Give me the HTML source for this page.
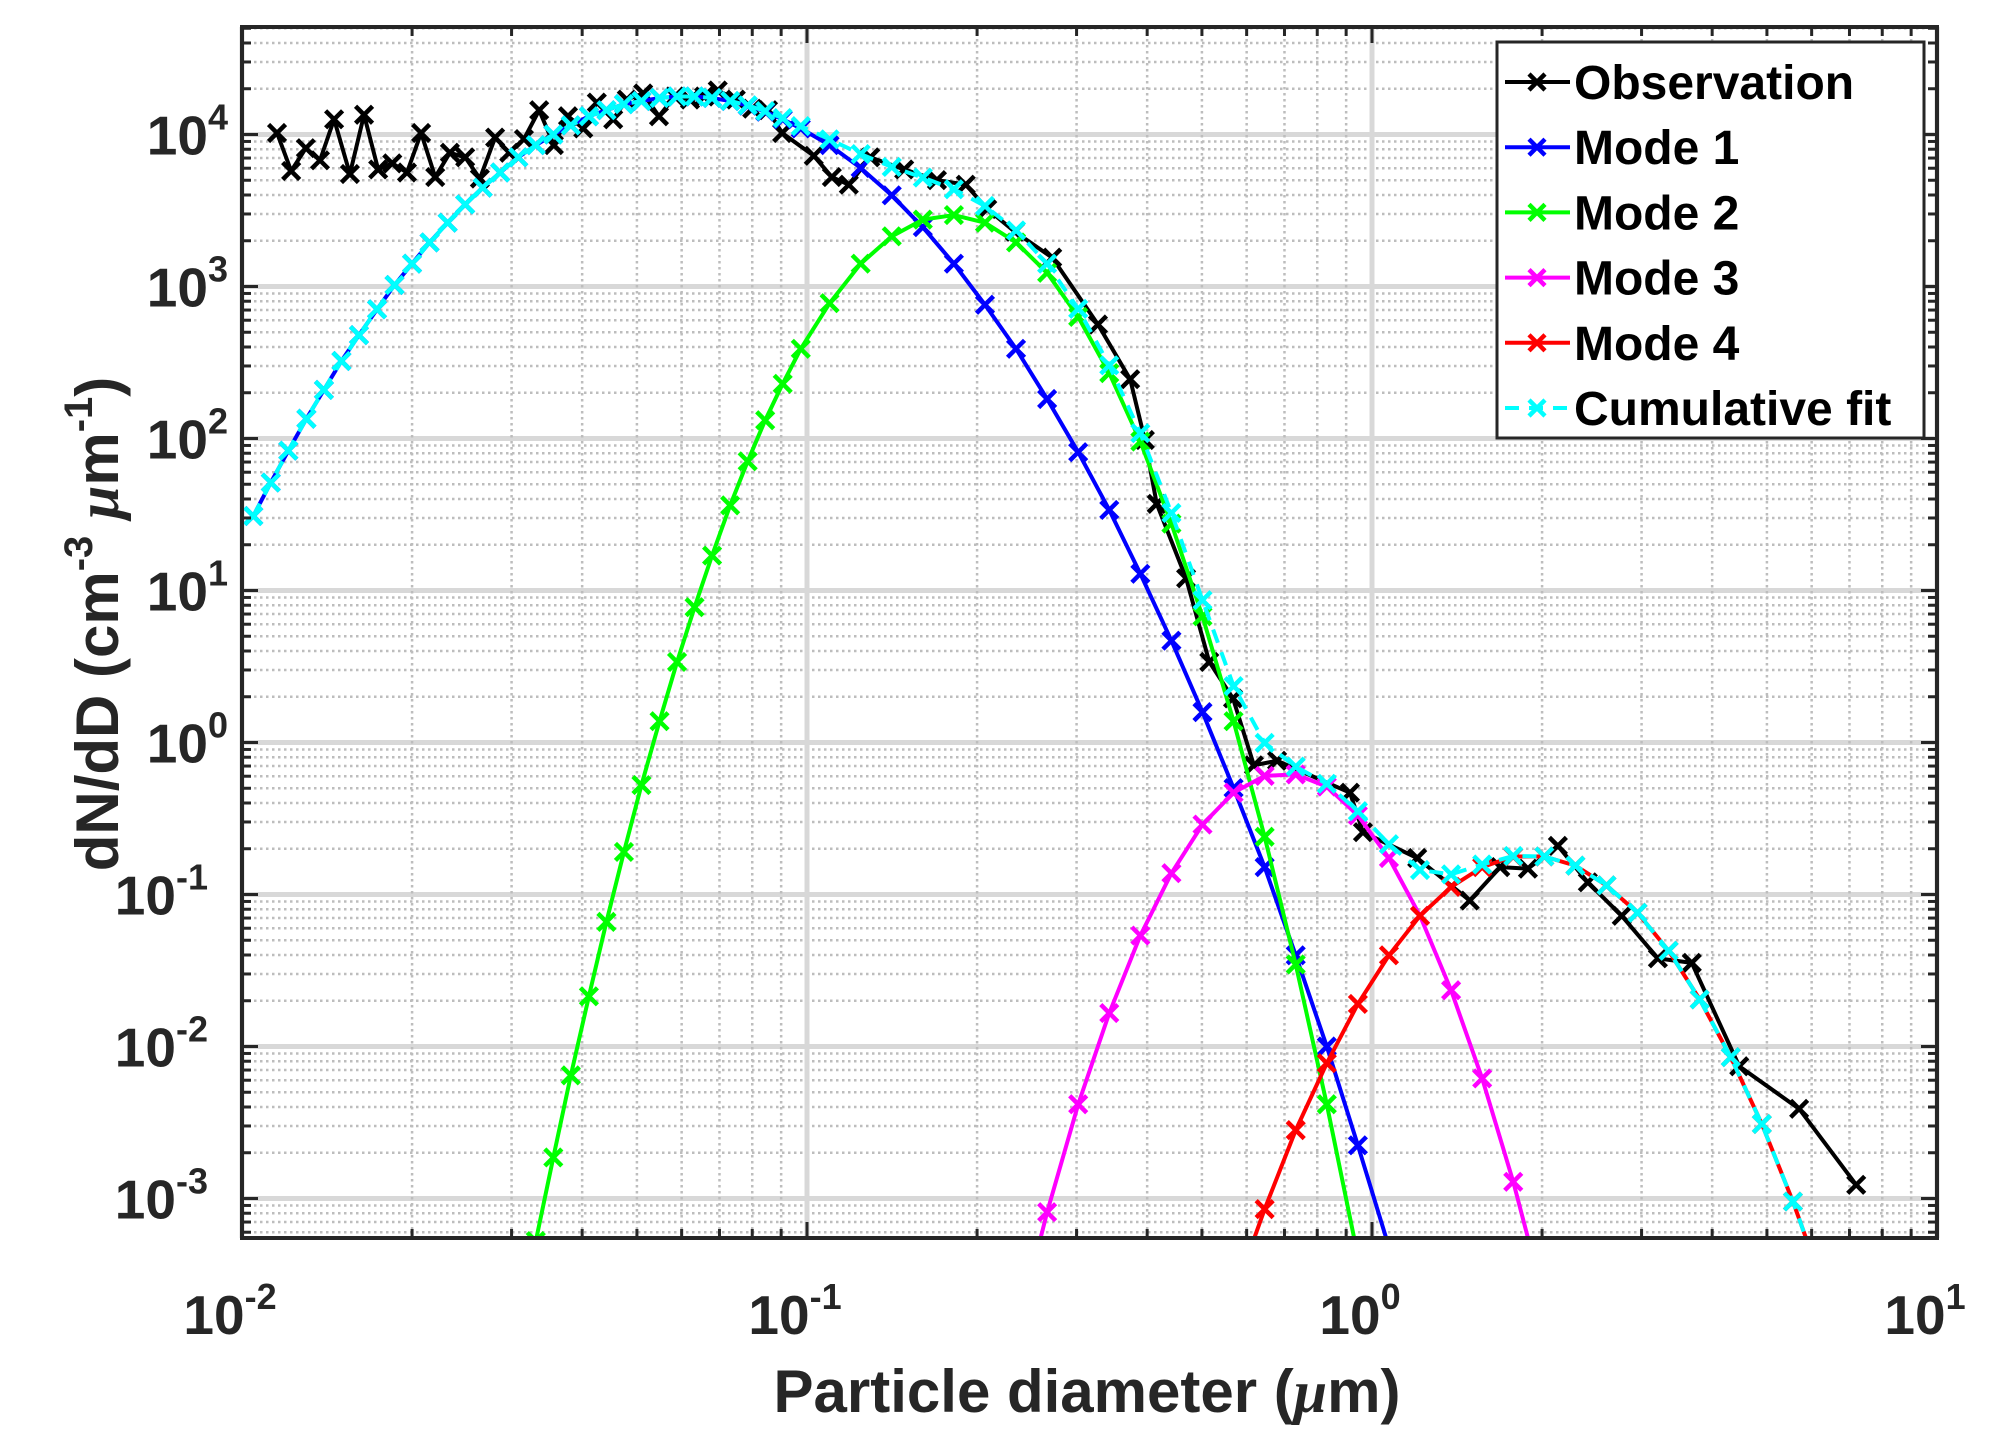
<!DOCTYPE html>
<html><head><meta charset="utf-8"><style>
html,body{margin:0;padding:0;background:#fff;}
svg{display:block;font-family:"Liberation Sans",Arial,sans-serif;}
</style></head><body>
<svg id="chart" width="2008" height="1439" viewBox="0 0 2008 1439" xmlns="http://www.w3.org/2000/svg">
<rect width="2008" height="1439" fill="#fff"/>
<defs><clipPath id="pc"><rect x="242" y="27" width="1695" height="1211"/></clipPath></defs>
<g id="grid"></g>
<g id="series" clip-path="url(#pc)"></g>
<rect x="242" y="27" width="1695" height="1211" fill="none" stroke="#262626" stroke-width="4"/>
<g id="ticks"></g>
<g id="labels" font-weight="bold" fill="#262626"></g>
<text x="1087" y="1412" text-anchor="middle" font-size="60" font-weight="bold" fill="#262626">Particle diameter (<tspan font-style="italic" font-family="Liberation Serif">μ</tspan>m)</text>
<text transform="translate(118,624) rotate(-90)" text-anchor="middle" font-size="60" font-weight="bold" fill="#262626">dN/dD (cm<tspan font-size="40" dy="-26">-3</tspan><tspan dy="26">  </tspan><tspan font-style="italic" font-family="Liberation Serif">μ</tspan>m<tspan font-size="40" dy="-26">-1</tspan><tspan dy="26">)</tspan></text>
<g id="legend"></g>
</svg>
<script>
// ---- data (log10 of diameter in µm, log10 of dN/dD) ----
const obsLogD = [-1.938,-1.913,-1.887,-1.862,-1.837,-1.809,-1.784,-1.759,-1.734,-1.708,-1.683,-1.658,-1.632,-1.605,-1.579,-1.552,-1.527,-1.501,-1.474,-1.448,-1.423,-1.396,-1.372,-1.343,-1.319,-1.290,-1.262,-1.234,-1.207,-1.182,-1.158,-1.126,-1.097,-1.069,-1.044,-0.988,-0.956,-0.926,-0.888,-0.828,-0.770,-0.719,-0.681,-0.632,-0.566,-0.485,-0.428,-0.402,-0.381,-0.329,-0.288,-0.246,-0.209,-0.168,-0.039,-0.016,0.080,0.173,0.227,0.276,0.329,0.382,0.442,0.506,0.566,0.650,0.756,0.857];
const obsLogN = [4.01,3.76,3.91,3.83,4.10,3.74,4.13,3.77,3.81,3.75,4.01,3.72,3.88,3.85,3.71,3.98,3.88,3.97,4.16,3.93,4.12,4.04,4.21,4.10,4.23,4.27,4.12,4.25,4.23,4.25,4.29,4.23,4.17,4.16,4.01,3.86,3.72,3.67,3.85,3.77,3.70,3.67,3.51,3.36,3.19,2.75,2.39,1.99,1.57,1.08,0.53,0.29,-0.15,-0.12,-0.33,-0.59,-0.76,-1.04,-0.82,-0.83,-0.68,-0.92,-1.14,-1.42,-1.45,-2.13,-2.41,-2.91];
const fitLogD = [-1.98,-1.949,-1.918,-1.886,-1.855,-1.824,-1.793,-1.761,-1.730,-1.699,-1.668,-1.636,-1.605,-1.574,-1.543,-1.511,-1.480,-1.449,-1.418,-1.386,-1.355,-1.324,-1.293,-1.261,-1.230,-1.199,-1.168,-1.136,-1.105,-1.074,-1.043,-1.011,-0.96,-0.905,-0.85,-0.795,-0.74,-0.685,-0.63,-0.575,-0.52,-0.465,-0.41,-0.355,-0.30,-0.245,-0.19,-0.135,-0.08,-0.025,0.03,0.085,0.14,0.195,0.25,0.305,0.36,0.415,0.47,0.525,0.58,0.635,0.69,0.745,0.80];
const mode1LogN = [1.49,1.71,1.92,2.13,2.32,2.51,2.68,2.85,3.01,3.15,3.29,3.42,3.54,3.65,3.75,3.85,3.93,4.00,4.06,4.12,4.16,4.20,4.22,4.24,4.25,4.25,4.24,4.22,4.19,4.15,4.10,4.04,3.93,3.78,3.60,3.39,3.15,2.88,2.59,2.26,1.91,1.53,1.11,0.67,0.20,-0.30,-0.82,-1.40,-2.00,-2.65,-3.32,null,null,null,null,null,null,null,null,null,null,null,null,null,null];
const mode2LogN = [null,null,null,null,null,null,null,null,null,null,null,null,null,null,null,null,-3.28,-2.73,-2.19,-1.67,-1.18,-0.72,-0.28,0.14,0.53,0.89,1.23,1.56,1.85,2.12,2.36,2.59,2.89,3.15,3.33,3.44,3.47,3.42,3.29,3.09,2.80,2.43,1.98,1.44,0.83,0.14,-0.62,-1.46,-2.38,-3.38,-4.44,null,null,null,null,null,null,null,null,null,null,null,null,null,null];
const mode3LogN = [null,null,null,null,null,null,null,null,null,null,null,null,null,null,null,null,null,null,null,null,null,null,null,null,null,null,null,null,null,null,null,null,null,null,null,null,null,null,-3.90,-3.09,-2.38,-1.78,-1.27,-0.86,-0.54,-0.33,-0.22,-0.21,-0.29,-0.48,-0.76,-1.14,-1.63,-2.21,-2.89,-3.67,null,null,null,null,null,null,null,null,null];
const mode4LogN = [null,null,null,null,null,null,null,null,null,null,null,null,null,null,null,null,null,null,null,null,null,null,null,null,null,null,null,null,null,null,null,null,null,null,null,null,null,null,null,null,null,null,null,null,null,-3.64,-3.07,-2.55,-2.11,-1.72,-1.40,-1.14,-0.95,-0.82,-0.75,-0.75,-0.81,-0.94,-1.12,-1.37,-1.69,-2.07,-2.51,-3.02,-3.59];
const xTickExps = [-2,-1,0,1];
const yTickExps = [4,3,2,1,0,-1,-2,-3];
const legendLabels = ["Observation","Mode 1","Mode 2","Mode 3","Mode 4","Cumulative fit"];
const legendColors = ["#000000","#0000ff","#00ff00","#ff00ff","#ff0000","#00ffff"];

// ---- axes ----
const X0=242, X1=1937, Y0=1238, Y1=27;
const xMin=-2, xMax=1, yMin=4-(1238-134.5)/152, yMax=4+(134.5-27)/152;
const xs = u => X0 + (u-xMin)/(xMax-xMin)*(X1-X0);
const ys = v => Y0 - (v-yMin)/(yMax-yMin)*(Y0-Y1);
const NS="http://www.w3.org/2000/svg";
function mk(tag, attrs, parent){const e=document.createElementNS(NS,tag);for(const k in attrs)e.setAttribute(k,attrs[k]);parent.appendChild(e);return e;}

const grid=document.getElementById('grid'), ticks=document.getElementById('ticks'), labels=document.getElementById('labels');
for(let d=Math.floor(yMin); d<=Math.ceil(yMax); d++){
  for(let m=1;m<10;m++){
    const v=d+Math.log10(m); if(v<yMin||v>yMax) continue;
    const y=ys(v);
    const g=mk('line',{x1:X0,x2:X1,y1:y,y2:y,stroke:m===1?'#d8d8d8':'#bdbdbd','stroke-width':m===1?5:2.5,'stroke-dasharray':m===1?'none':'2.5 3.5'},grid);
    
    
    const len=m===1?16:9;
    const t1=mk('line',{x1:X0,x2:X0+len,y1:y,y2:y,stroke:'#262626','stroke-width':3},ticks);
    
    
    const t2=mk('line',{x1:X1-len,x2:X1,y1:y,y2:y,stroke:'#262626','stroke-width':3},ticks);
    
    
  }
}
for(let d=xMin; d<=xMax; d++){
  for(let m=1;m<10;m++){
    const u=d+Math.log10(m); if(u<xMin||u>xMax) continue;
    const x=xs(u);
    const g=mk('line',{x1:x,x2:x,y1:Y1,y2:Y0,stroke:m===1?'#d8d8d8':'#bdbdbd','stroke-width':m===1?5:2.5,'stroke-dasharray':m===1?'none':'2.5 3.5'},grid);
    
    
    const len=m===1?16:9;
    const t1=mk('line',{x1:x,x2:x,y1:Y0,y2:Y0-len,stroke:'#262626','stroke-width':3},ticks);
    
    
    const t2=mk('line',{x1:x,x2:x,y1:Y1,y2:Y1+len,stroke:'#262626','stroke-width':3},ticks);
    
    
  }
}
xTickExps.forEach(e=>{
  const t=mk('text',{x:xs(e)-12,y:1334,'text-anchor':'middle','font-size':55},labels);
  
  
  t.innerHTML='10<tspan font-size="36" dy="-25">'+e+'</tspan>';
});
yTickExps.forEach(e=>{
  const t=mk('text',{x:e<0?208:228,y:ys(e)+20,'text-anchor':'end','font-size':55},labels);
  
  
  t.innerHTML='10<tspan font-size="36" dy="-25">'+e+'</tspan>';
});

const series=document.getElementById('series');
function drawSeries(name, lx, ly, color, dashed){
  const g=mk('g',{},series);
  
  
  let segs=[], cur=[];
  lx.forEach((u,i)=>{const v=ly[i]; if(v===null||v===undefined){if(cur.length)segs.push(cur);cur=[];} else cur.push([xs(u),ys(v)]);});
  if(cur.length)segs.push(cur);
  segs.forEach(s=>{
    const p=mk('polyline',{points:s.map(q=>q.join(',')).join(' '),fill:'none',stroke:color,'stroke-width':4,'stroke-linejoin':'round','stroke-dasharray':dashed?'14 10':'none'},g);
    
    
    s.forEach(q=>{
      const r=8.5;
      const m=mk('path',{d:`M${q[0]-r},${q[1]-r}L${q[0]+r},${q[1]+r}M${q[0]-r},${q[1]+r}L${q[0]+r},${q[1]-r}`,stroke:color,'stroke-width':4.5},g);
      
      
    });
  });
}
const cumLogN = fitLogD.map((u,i)=>{
  let s=0; [mode1LogN,mode2LogN,mode3LogN,mode4LogN].forEach(a=>{if(a[i]!==null)s+=Math.pow(10,a[i]);});
  return s>0?Math.log10(s):null;
});
drawSeries('observation-series', obsLogD, obsLogN, '#000000', false);
drawSeries('mode-1-series', fitLogD, mode1LogN, '#0000ff', false);
drawSeries('mode-2-series', fitLogD, mode2LogN, '#00ff00', false);
drawSeries('mode-3-series', fitLogD, mode3LogN, '#ff00ff', false);
drawSeries('mode-4-series', fitLogD, mode4LogN, '#ff0000', false);
drawSeries('cumulative-fit-series', fitLogD, cumLogN, '#00ffff', true);

const lg=document.getElementById('legend');
const box=mk('rect',{x:1497,y:42,width:427,height:396,fill:'#fff',stroke:'#262626','stroke-width':3},lg);


legendLabels.forEach((lab,i)=>{
  const y=82+i*65.2;
  const e=mk('g',{},lg);
  
  
  const c=legendColors[i];
  mk('line',{x1:1505,x2:1570,y1:y,y2:y,stroke:c,'stroke-width':4,'stroke-dasharray':i===5?'14 10':'none'},e);
  mk('path',{d:`M1529,${y-8}L1545,${y+8}M1529,${y+8}L1545,${y-8}`,stroke:c,'stroke-width':4.5},e);
  const t=mk('text',{x:1574,y:y+17,'font-size':48,'font-weight':'bold',fill:'#000'},e);
  t.textContent=lab;
});
</script>
</body></html>
